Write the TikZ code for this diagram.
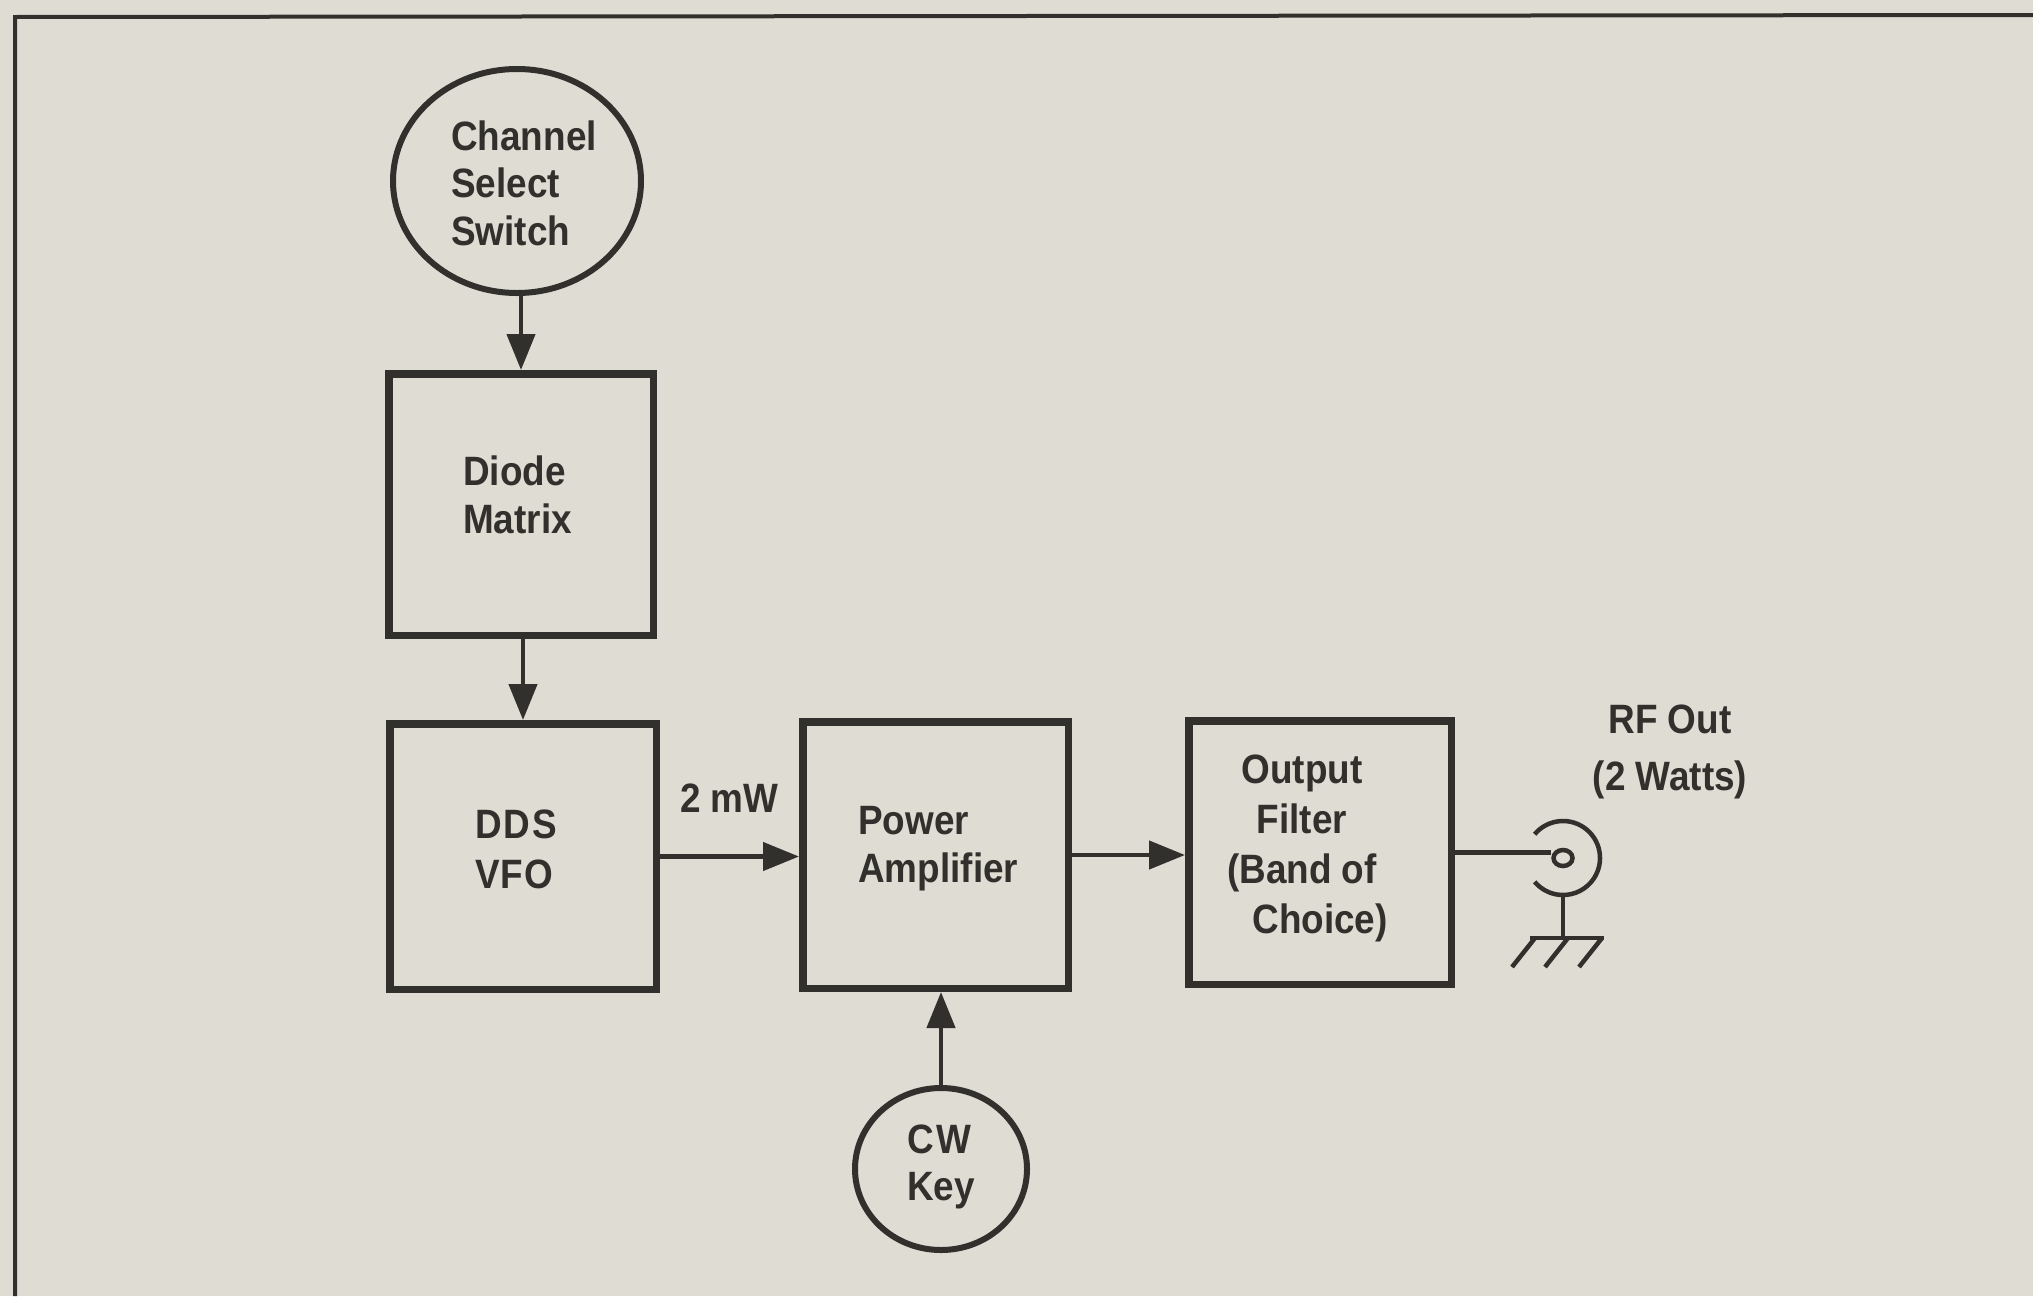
\documentclass[tikz,border=0pt]{standalone}
\usepackage{fontspec}
\newfontfamily\lbl{Liberation Sans}[FakeStretch=0.9]
\usetikzlibrary{arrows.meta,shapes.geometric}
\definecolor{paper}{RGB}{222,220,211}
\definecolor{ink}{RGB}{50,48,45}
\newcommand\LinesL[2]{\vtop{\baselineskip=#1\lineskiplimit=-100pt\lineskip=0pt\halign{##\hfil\cr#2\crcr}}}
\newcommand\LinesC[2]{\vtop{\baselineskip=#1\lineskiplimit=-100pt\lineskip=0pt\halign{\hfil##\hfil\cr#2\crcr}}}
\begin{document}
\begin{tikzpicture}[x=1pt,y=-1pt,
  box/.style={draw=ink, line width=7.5pt, rectangle, inner sep=0pt},
  disc/.style={draw=ink, line width=6pt, ellipse, inner sep=0pt},
  txt/.style={text=ink, font=\lbl\bfseries\fontsize{41}{48}\selectfont, inner sep=0pt, anchor=base west},
  arr/.style={draw=ink, line width=4.5pt, -{Triangle[length=36pt,width=28pt]}},
  wire/.style={draw=ink, line width=4.5pt},
]
\fill[paper] (0,0) rectangle (2033,1296);
\useasboundingbox (0,0) rectangle (2033,1296);
% frame
\draw[ink, line width=4pt] (15,1296) -- (15,17) -- (2033,15);
% blocks
\node[disc, minimum width=248pt, minimum height=224pt] (ch) at (517,181) {};
\node[box, minimum width=264.5pt, minimum height=261.5pt] (diode) at (521,504.5) {};
\node[box, minimum width=266.5pt, minimum height=265.5pt] (dds) at (523,856.5) {};
\node[box, minimum width=265.5pt, minimum height=266.5pt] (pa) at (935.5,855) {};
\node[box, minimum width=262.5pt, minimum height=263.5pt] (filter) at (1320,852.5) {};
\node[disc, minimum width=172pt, minimum height=162pt] (cw) at (941,1169) {};
\node[draw=ink, line width=4.5pt, ellipse, inner sep=0pt, minimum width=19pt, minimum height=16pt] (conn) at (1563,858) {};
% texts
\node[txt] (chT) at (451,150) {\LinesL{47.5pt}{Channel\cr Select\cr Switch}};
\node[txt] (diodeT) at (463,485) {\LinesL{48pt}{Diode\cr Matrix}};
\node[txt] (ddsT) at (475,838) {\LinesL{50pt}{D\kern2pt D\kern2pt S\cr V\kern1pt F\kern1pt O}};
\node[txt] (paT) at (858,834) {\LinesL{48pt}{Power\cr Amplifier}};
\node[txt] (cwT) at (907,1153) {\LinesL{47pt}{C\kern3pt W\cr Key}};
\node[txt, anchor=base] (filterT) at (1302,783) {\LinesC{50pt}{Output\cr Filter\cr (Band of\cr \hspace*{36pt}Choice)}};
\node[txt] (mw) at (680,812) {2 mW};
\node[txt, anchor=base] (rf) at (1670,733) {\LinesC{57pt}{RF Out\cr (2 Watts)}};
% connectors
\draw[arr] (diode.north |- ch.south) -- (diode.north);
\draw[arr] (dds.north |- diode.south) -- (dds.north);
\draw[arr] (dds.east) -- (dds.east -| pa.west);
\draw[arr] (pa.east) -- (pa.east -| filter.west);
\draw[arr] (cw.north) -- (cw.north |- pa.south);
\draw[wire] (filter.east) -- (filter.east -| conn.west);
% coax connector and ground
\draw[wire] (conn.center) ++(140:37pt) arc[start angle=140, end angle=-140, radius=37pt];
\coordinate (gtop) at (1563,895);
\coordinate (gbar) at (1563,938);
\draw[wire] (gtop) -- (gbar);
\draw[wire] (1530,938) -- (1604,938);
\draw[wire] (1535,938) -- (1512,967);
\draw[wire] (1568,938) -- (1545,967);
\draw[wire] (1602,938) -- (1579,967);
\end{tikzpicture}
\end{document}
